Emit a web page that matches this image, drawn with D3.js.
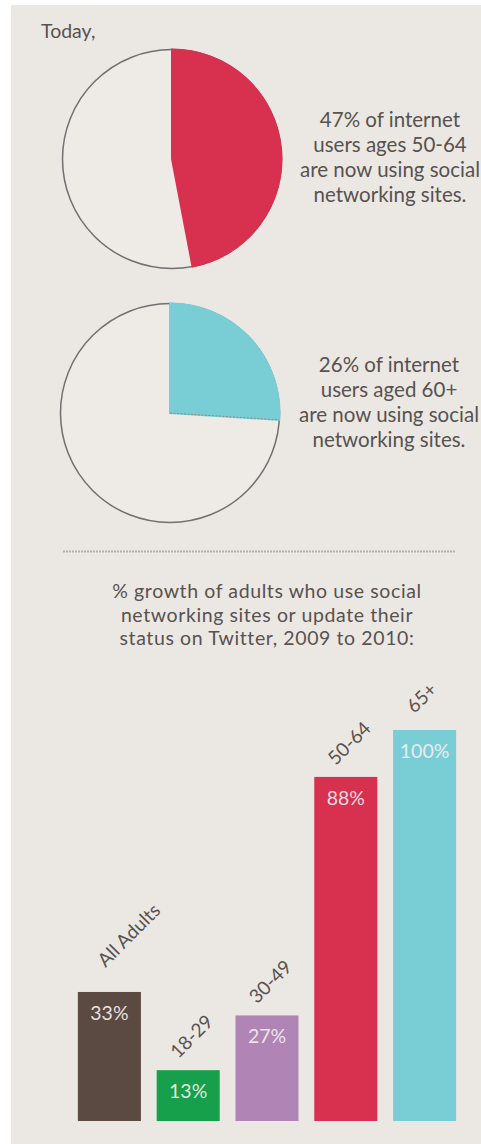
<!DOCTYPE html>
<html><head><meta charset="utf-8">
<script src="https://cdn.jsdelivr.net/npm/d3@7"></script>
<style>html,body{margin:0;padding:0;background:#fff;}svg{display:block;}</style>
</head><body>
<script>
// ---- data ----
const pieValues = [47, 26];
const pieColors = ["#d8304f", "#79ced6"];
const pieCaptions = [
  ["47% of internet", "users ages 50-64", "are now using social", "networking sites."],
  ["26% of internet", "users aged 60+", "are now using social", "networking sites."]
];
const introText = "Today,";
const titleLines = ["% growth of adults who use social", "networking sites or update their", "status on Twitter, 2009 to 2010:"];
const categories = ["All Adults", "18-29", "30-49", "50-64", "65+"];
const growth = [33, 13, 27, 88, 100];
const barColors = ["#5b4a41", "#17a04b", "#b085b6", "#d8304f", "#79ced6"];

// layout tweaks (not data)
const labelLift = {"All Adults": [6, 13], "65+": [0, 5]};

const W = 481, H = 1144;
const font = "Lato, 'Open Sans', sans-serif";
const textCol = "#58524f";
const svg = d3.select("body").append("svg").attr("width", W).attr("height", H);

svg.append("rect").attr("x", 11).attr("y", 5).attr("width", W - 11).attr("height", H - 5).attr("fill", "#ebe8e4");

svg.append("text").attr("x", 41).attr("y", 38).attr("font-family", font).attr("font-size", 19.5)
  .attr("fill", textCol).text(introText);

// ---- pies ----
const pieCenters = [[172, 159], [170, 413]];
const R = 109.5;
const angle = d3.scaleLinear().domain([0, 100]).range([0, 2 * Math.PI]);
const arc = d3.arc().innerRadius(0).outerRadius(R);
pieValues.forEach((v, i) => {
  const g = svg.append("g").attr("transform", `translate(${pieCenters[i][0]},${pieCenters[i][1]})`);
  g.append("circle").attr("r", R).attr("fill", "#eeebe7").attr("stroke", "#707070").attr("stroke-width", 1.5);
  const a = angle(v);
  g.append("path").attr("d", arc({startAngle: 0, endAngle: a}))
    .attr("fill", pieColors[i]).attr("stroke", pieColors[i]).attr("stroke-width", 2);
  if (i === 1) {
    g.append("line").attr("x1", 0).attr("y1", 0)
      .attr("x2", R * Math.sin(a)).attr("y2", -R * Math.cos(a))
      .attr("stroke", "#8a8a8a").attr("stroke-width", 1).attr("stroke-dasharray", "2,1.5");
  }
  const tx = [390, 389][i], ty = [127, 372][i];
  const t = svg.append("text").attr("font-family", font).attr("font-size", 20.5).attr("fill", textCol)
    .attr("text-anchor", "middle");
  pieCaptions[i].forEach((line, k) => {
    t.append("tspan").attr("x", tx).attr("y", ty + k * 25).text(line);
  });
});

// ---- separator ----
svg.append("line").attr("x1", 63).attr("x2", 455).attr("y1", 551.5).attr("y2", 551.5)
  .attr("stroke", "#b5b1ad").attr("stroke-width", 2).attr("stroke-dasharray", "2,1");

// ---- title ----
const tt = svg.append("text").attr("font-family", font).attr("font-size", 19.5).attr("fill", textCol)
  .attr("text-anchor", "middle").attr("letter-spacing", 0.6);
titleLines.forEach((line, k) => {
  tt.append("tspan").attr("x", 267).attr("y", 598 + k * 23.5).text(line);
});

// ---- bars ----
const x = d3.scaleBand().domain(categories).range([70, 464]).paddingInner(0.2).paddingOuter(0.1);
const y = d3.scaleLinear().domain([0, 100]).range([1121, 730]);
const bars = svg.append("g");
categories.forEach((c, i) => {
  const bx = x(c), bw = x.bandwidth(), top = y(growth[i]);
  bars.append("rect").attr("x", bx).attr("y", top).attr("width", bw).attr("height", y(0) - top)
    .attr("fill", barColors[i]);
  bars.append("text").attr("x", bx + bw / 2).attr("y", top + 28).attr("text-anchor", "middle")
    .attr("font-family", font).attr("font-size", 19.5).attr("fill", "#f6eef0").attr("fill-opacity", 0.92)
    .text(growth[i] + "%");
  const [dx, lift] = labelLift[c] || [0, 0];
  const lx = bx + bw / 2 - 10 + dx, ly = top - 11 - lift;
  bars.append("text").attr("transform", `translate(${lx},${ly}) rotate(-45)`)
    .attr("font-family", font).attr("font-size", 19).attr("fill", textCol).text(c);
});
</script>
</body></html>
